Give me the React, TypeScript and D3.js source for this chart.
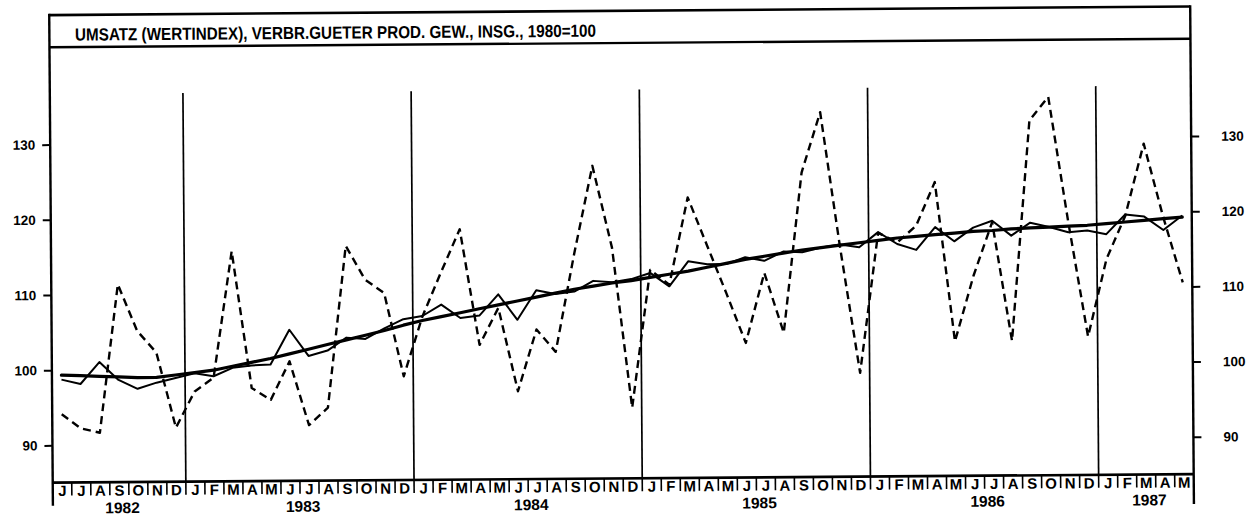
import React from "react";
import * as d3 from "d3";

const TITLE = "UMSATZ (WERTINDEX), VERBR.GUETER PROD. GEW., INSG., 1980=100";

const monthLetters = ["J", "F", "M", "A", "M", "J", "J", "A", "S", "O", "N", "D"];
const startYear = 1982;
const startMonth = 5; // June (0-based)
const monthCount = 60;
const yTicks = [90, 100, 110, 120, 130];
const years = [1982, 1983, 1984, 1985, 1986, 1987];

// Original index (dashed)
const original = [
  94.2, 92.3, 91.7, 111.4, 105.2, 102.3, 92.3,
  97.1, 98.9, 115.7, 97.5, 95.9, 101.0, 92.5, 94.8, 116.3, 111.8, 110.0, 98.9,
  106.8, 112.7, 118.4, 103.0, 107.9, 96.8, 105.0, 102.0, 114.9, 126.7, 115.8, 94.5,
  112.8, 110.8, 122.4, 116.0, 109.6, 103.0, 112.3, 104.3, 125.6, 133.6, 115.5, 98.9,
  117.5, 116.2, 118.4, 124.2, 103.0, 111.7, 118.8, 103.0, 132.3, 135.4, 118.8, 103.5,
  113.8, 119.5, 129.1, 119.3, 110.6,
];

// Seasonally adjusted (thin solid)
const adjusted = [
  98.8, 98.2, 101.1, 98.7, 97.5, 98.3, 98.9,
  99.5, 99.1, 100.2, 100.5, 100.6, 105.2, 101.7, 102.4, 104.1, 103.9, 105.3, 106.5,
  106.9, 108.4, 106.6, 106.9, 109.7, 106.3, 110.2, 109.7, 110.0, 111.4, 111.2, 111.6,
  112.4, 110.6, 113.9, 113.5, 113.5, 114.4, 113.9, 115.1, 115.0, 115.6, 116.0, 115.6,
  117.6, 116.0, 115.2, 118.2, 116.3, 118.1, 119.0, 117.0, 118.7, 118.1, 117.4, 117.6,
  117.1, 119.7, 119.4, 117.6, 119.5,
];

// Trend (thick solid)
const trend = [
  99.4, 99.3, 99.2, 99.1, 99.0, 99.0, 99.3,
  99.6, 99.9, 100.4, 100.9, 101.4, 102.0, 102.6, 103.2, 103.8, 104.4, 105.0, 105.7,
  106.3, 106.8, 107.3, 107.8, 108.3, 108.8, 109.3, 109.8, 110.3, 110.7, 111.1, 111.4,
  111.8, 112.2, 112.6, 113.1, 113.6, 114.1, 114.5, 114.9, 115.3, 115.6, 115.9, 116.2,
  116.5, 116.8, 117.0, 117.2, 117.4, 117.6, 117.7, 117.9, 118.0, 118.1, 118.2, 118.3,
  118.5, 118.7, 118.9, 119.1, 119.3,
];

const W = 1252;
const H = 516;
const left = 51;
const right = 1192;
const top = 10.8;
const titleBottom = 43;
const axisY = 478.4;
const yearLineTop = 89.7;

export default function App() {
  const idx = d3.range(monthCount);
  const x = d3.scaleBand<number>().domain(idx).range([left, right]).padding(0);
  const bw = x.bandwidth();
  const cx = (i: number) => (x(i) as number) + bw / 2;
  const y = d3.scaleLinear().domain([90, 130]).range([441.6, 140.8]);

  const monthOf = (i: number) => (startMonth + i) % 12;
  const yearOf = (i: number) => startYear + Math.floor((startMonth + i) / 12);

  const line = d3
    .line<number>()
    .x((_, i) => cx(i))
    .y((v) => y(v));

  const yearSpans = years.map((yr) => {
    const ids = idx.filter((i) => yearOf(i) === yr);
    const x0 = x(ids[0]) as number;
    const x1 = (x(ids[ids.length - 1]) as number) + bw;
    return { yr, c: (x0 + x1) / 2 };
  });

  const font = "'Liberation Sans Narrow', 'Liberation Sans', Arial, sans-serif";

  return (
    <svg
      width={W}
      height={H}
      style={{ position: "absolute", left: 0, top: 0, background: "#fff" }}
    >
      <rect x={0} y={0} width={W} height={H} fill="#fff" />
      <g transform="rotate(-0.43, 620, 250)">
        {/* frame */}
        <line x1={left} x2={right} y1={top} y2={top} stroke="#000" strokeWidth={2.6} />
        <line x1={left} x2={right} y1={titleBottom} y2={titleBottom} stroke="#000" strokeWidth={2.4} />
        <line x1={left} x2={right} y1={axisY} y2={axisY} stroke="#000" strokeWidth={2.6} />
        <line x1={left} x2={left} y1={top - 1.3} y2={axisY + 23} stroke="#000" strokeWidth={2.4} />
        <line x1={right} x2={right} y1={top - 1.3} y2={axisY + 30} stroke="#000" strokeWidth={2.4} />

        <text
          x={76.6}
          y={36.5}
          fontFamily={font}
          fontWeight="bold"
          fontSize={17.5}
          textLength={521}
          lengthAdjust="spacingAndGlyphs"
          fill="#000"
        >
          {TITLE}
        </text>

        {/* year separators */}
        {idx
          .filter((i) => monthOf(i) === 0)
          .map((i) => (
            <line
              key={"yl" + i}
              x1={x(i) as number}
              x2={x(i) as number}
              y1={yearLineTop}
              y2={axisY}
              stroke="#000"
              strokeWidth={1.7}
            />
          ))}

        {/* month separators */}
        {idx.slice(1).map((i) => (
          <line
            key={"ms" + i}
            x1={x(i) as number}
            x2={x(i) as number}
            y1={axisY}
            y2={axisY + 13}
            stroke="#000"
            strokeWidth={1.6}
          />
        ))}

        {/* month letters */}
        {idx.map((i) => (
          <text
            key={"ml" + i}
            x={cx(i)}
            y={axisY + 13.5}
            textAnchor="middle"
            fontFamily={font}
            fontWeight="bold"
            fontSize={15}
            fill="#000"
          >
            {monthLetters[monthOf(i)]}
          </text>
        ))}

        {/* year labels */}
        {yearSpans.map((s) => (
          <text
            key={"yr" + s.yr}
            x={s.c + 3}
            y={axisY + 31}
            textAnchor="middle"
            fontFamily={font}
            fontWeight="bold"
            fontSize={15.5}
            fill="#000"
          >
            {s.yr}
          </text>
        ))}

        {/* y axes */}
        {yTicks.map((t) => (
          <g key={"yt" + t}>
            <line x1={left - 8} x2={left} y1={y(t)} y2={y(t)} stroke="#000" strokeWidth={2} />
            <line x1={right} x2={right + 8} y1={y(t)} y2={y(t)} stroke="#000" strokeWidth={2} />
            <text
              x={36}
              y={y(t) + 4.5}
              textAnchor="end"
              fontFamily="'Liberation Sans', Arial, sans-serif"
              fontWeight="bold"
              fontSize={13.5}
              fill="#000"
            >
              {t}
            </text>
            <text
              x={1222}
              y={y(t) + 4.5}
              textAnchor="start"
              fontFamily="'Liberation Sans', Arial, sans-serif"
              fontWeight="bold"
              fontSize={13.5}
              fill="#000"
            >
              {t}
            </text>
          </g>
        ))}

        {/* series */}
        <path
          d={line(original) || ""}
          fill="none"
          stroke="#000"
          strokeWidth={2.4}
          strokeDasharray="8,5"
          strokeLinejoin="round"
        />
        <path
          d={line(adjusted) || ""}
          fill="none"
          stroke="#000"
          strokeWidth={2}
          strokeLinejoin="round"
        />
        <path
          d={line(trend) || ""}
          fill="none"
          stroke="#000"
          strokeWidth={3.2}
          strokeLinejoin="round"
          strokeLinecap="round"
        />
      </g>
    </svg>
  );
}
